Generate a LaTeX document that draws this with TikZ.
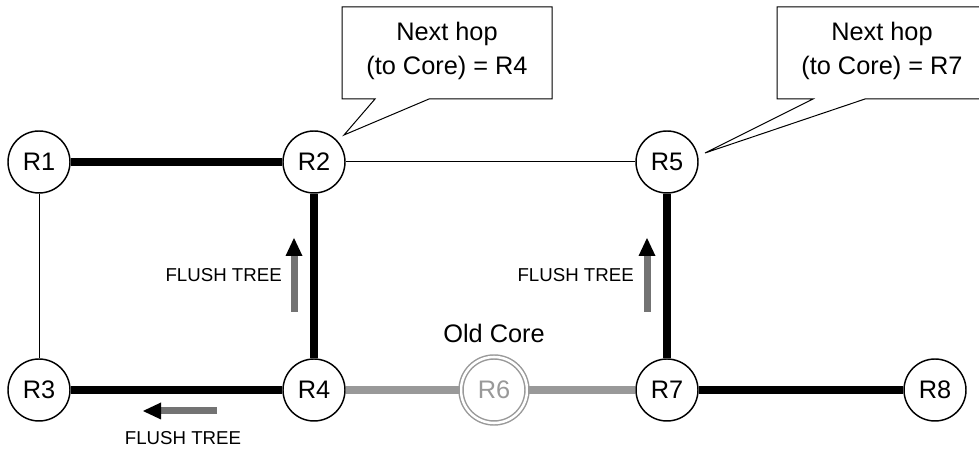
\documentclass[tikz,border=0pt]{standalone}
\usepackage{fontspec}
\setmainfont{Liberation Sans}
\usetikzlibrary{positioning}
\usetikzlibrary{arrows.meta}

\tikzset{
  router/.style={circle,draw=black,line width=1.1pt,fill=white,
    minimum size=46.5pt,inner sep=0pt,font=\fontsize{19}{22}\selectfont},
  oldcore/.style={circle,draw=black!40,double=white,double distance=1.9pt,
    line width=1.1pt,fill=white,minimum size=49.5pt,inner sep=0pt,
    text=black!40,font=\fontsize{19}{22}\selectfont},
  treelink/.style={line width=5.5pt},
  plainlink/.style={line width=0.75pt},
  corelink/.style={line width=5.3pt,black!40},
  flush/.style={line width=5.25pt,black!55,
    -{Triangle[length=13.5pt,width=12.75pt,color=black,line width=0pt]}},
  flushlabel/.style={inner sep=0pt,font=\fontsize{14}{16}\selectfont},
  callout/.style={draw=black,line width=0.75pt,fill=white},
  hoptext/.style={align=center,inner sep=0pt,font=\fontsize{19}{25.5}\selectfont},
}

\begin{document}
\begin{tikzpicture}[x=0.75pt,y=0.75pt]
\path[use as bounding box] (0,0) rectangle (979,449);
\clip (0,0) rectangle (979,449);

% Routers.
\node[router] (R1) at (39,287) {R1};
\node[router] (R2) at (314,287) {R2};
\node[router] (R5) at (667,287) {R5};
\node[router] (R3) at (39,59) {R3};
\node[router] (R4) at (314,59) {R4};
\node[oldcore] (R6) at (494,59) {R6};
\node[router] (R7) at (667,59) {R7};
\node[router] (R8) at (935,59) {R8};
\node[font=\fontsize{19}{22}\selectfont] (oldlbl) at (494,116) {Old Core};

% Links of the shared tree, plain links and links to the old core.
\draw[treelink] (R1)--(R2);
\draw[treelink] (R2)--(R4);
\draw[treelink] (R3)--(R4);
\draw[treelink] (R5)--(R7);
\draw[treelink] (R7)--(R8);
\draw[plainlink] (R1)--(R3);
\draw[plainlink] (R2)--(R5);
\draw[corelink] (R4)--(R6);
\draw[corelink] (R6)--(R7);

% Flush messages.
\coordinate (fa0) at (294,137);
\coordinate (fa1) at (294,211);
\coordinate (fb0) at (647,137);
\coordinate (fb1) at (647,211);
\coordinate (fc0) at (217,38);
\coordinate (fc1) at (143,38);
\draw[flush] (fa0)--(fa1);
\draw[flush] (fb0)--(fb1);
\draw[flush] (fc0)--(fc1);
\node[flushlabel,anchor=east] (flushA) at (282,174) {FLUSH TREE};
\node[flushlabel,anchor=east] (flushB) at (634,174) {FLUSH TREE};
\node[flushlabel] (flushC) at (183,11) {FLUSH TREE};

% Callouts with the next hop towards the core.
\coordinate (tipA) at (344,314);
\coordinate (tipB) at (705,296);
\draw[callout] (342,350)--(375,350)--(tipA)--(429,350)--(552,350)
  --(552,442)--(342,442)--cycle;
\draw[callout] (777,350)--(813,350)--(tipB)--(865,350)--(987,350)
  --(987,442)--(777,442)--cycle;
\node[hoptext] (hopA) at (447,398) {Next hop\\(to Core) = R4};
\node[hoptext] (hopB) at (882,398) {Next hop\\(to Core) = R7};
\end{tikzpicture}
\end{document}
